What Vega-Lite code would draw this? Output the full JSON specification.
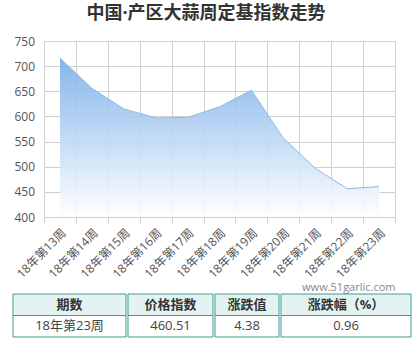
{
  "$schema": "https://vega.github.io/schema/vega-lite/v6.json",
  "padding": {"left": 12, "top": 5, "right": 0, "bottom": 0},
  "background": "white",
  "config": {"font": "Open Sans, Noto Sans CJK SC", "view": {"stroke": null}},
  "title": {"text": "中国·产区大蒜周定基指数走势", "font": "Open Sans, Noto Sans CJK SC", "fontSize": 18, "fontWeight": "bold", "color": "#333333", "anchor": "middle", "offset": 12, "dx": -6},
  "datasets": {
    "index": [
      {"周": "18年第13周", "指数": 716},
      {"周": "18年第14周", "指数": 656},
      {"周": "18年第15周", "指数": 615},
      {"周": "18年第16周", "指数": 597},
      {"周": "18年第17周", "指数": 598},
      {"周": "18年第18周", "指数": 619},
      {"周": "18年第19周", "指数": 652},
      {"周": "18年第20周", "指数": 557},
      {"周": "18年第21周", "指数": 497},
      {"周": "18年第22周", "指数": 456.13},
      {"周": "18年第23周", "指数": 460.51}
    ],
    "table": [
      {"col": "期数", "row": "header", "text": "期数"},
      {"col": "期数", "row": "data", "text": "18年第23周"},
      {"col": "价格指数", "row": "header", "text": "价格指数"},
      {"col": "价格指数", "row": "data", "text": "460.51"},
      {"col": "涨跌值", "row": "header", "text": "涨跌值"},
      {"col": "涨跌值", "row": "data", "text": "4.38"},
      {"col": "涨跌幅", "row": "header", "text": "涨跌幅（%）"},
      {"col": "涨跌幅", "row": "data", "text": "0.96"}
    ]
  },
  "spacing": 0,
  "vconcat": [
    {
      "bounds": "flush",
      "spacing": 30,
      "hconcat": [
        {
          "width": 1,
          "height": 176,
          "data": {"name": "index"},
          "mark": {"type": "point", "opacity": 0, "size": 0},
          "encoding": {
            "y": {
              "field": "指数", "type": "quantitative",
              "scale": {"domain": [400, 750], "nice": false, "zero": false},
              "axis": {
                "orient": "right", "values": [400, 450, 500, 550, 600, 650, 700, 750], "title": null,
                "grid": false, "ticks": false, "domain": false,
                "labelFontSize": 12, "labelColor": "#555555", "labelPadding": 0
              }
            }
          }
        },
        {
          "width": 351,
          "height": 176,
          "data": {"name": "index"},
          "encoding": {
            "x": {
              "field": "周", "type": "ordinal", "sort": null, "bandPosition": 0.5,
              "scale": {"type": "band", "paddingInner": 0, "paddingOuter": 0},
              "axis": {
                "title": "www.51garlic.com", "titleAnchor": "end", "titleAlign": "right",
                "titleFontSize": 11, "titleFontWeight": "normal", "titleColor": "#888888", "titlePadding": 2,
                "labelAngle": -45, "labelFontSize": 12, "labelColor": "#555555", "labelPadding": 4,
                "tickBand": "extent", "grid": true, "gridColor": "#d0d0d0", "tickColor": "#d0d0d0",
                "tickSize": 6, "domain": false
              }
            },
            "y": {
              "field": "指数", "type": "quantitative",
              "scale": {"domain": [400, 750], "nice": false, "zero": false},
              "axis": {
                "values": [400, 450, 500, 550, 600, 650, 700, 750], "title": null, "grid": true,
                "gridColor": "#d0d0d0", "ticks": false, "domain": false, "labels": false
              }
            }
          },
          "layer": [
            {
              "mark": {
                "type": "area", "opacity": 0.9,
                "color": {"gradient": "linear", "x1": 0, "y1": 0, "x2": 0, "y2": 1,
                  "stops": [{"offset": 0, "color": "#78aee9"}, {"offset": 1, "color": "#ffffff"}]}
              },
              "encoding": {"y2": {"datum": 400}}
            },
            {
              "mark": {"type": "line", "color": "#8cb9e6", "strokeWidth": 1},
              "encoding": {}
            }
          ]
        }
      ]
    },
    {
      "spacing": 0,
      "hconcat": [
        {
          "width": 113, "height": 43,
          "data": {"name": "table"},
          "transform": [{"filter": "datum.col === '期数'"}],
          "encoding": {"y": {"field": "row", "type": "nominal", "sort": ["header", "data"], "axis": null, "scale": {"paddingInner": 0, "paddingOuter": 0}}},
          "layer": [
            {"mark": {"type": "rect", "stroke": "#3b9d97", "strokeWidth": 1},
             "encoding": {"x": {"value": 0}, "x2": {"value": "width"},
               "fill": {"field": "row", "type": "nominal", "scale": {"domain": ["header", "data"], "range": ["#e4f3f1", "#ffffff"]}, "legend": null}}},
            {"transform": [{"filter": "datum.row === 'header'"}], "mark": {"type": "text", "fontSize": 13, "fontWeight": "bold", "color": "#333333"}, "encoding": {"text": {"field": "text"}}},
            {"transform": [{"filter": "datum.row === 'data'"}], "mark": {"type": "text", "fontSize": 13, "color": "#444444"}, "encoding": {"text": {"field": "text"}}}
          ]
        },
        {
          "width": 85, "height": 43,
          "data": {"name": "table"},
          "transform": [{"filter": "datum.col === '价格指数'"}],
          "encoding": {"y": {"field": "row", "type": "nominal", "sort": ["header", "data"], "axis": null, "scale": {"paddingInner": 0, "paddingOuter": 0}}},
          "layer": [
            {"mark": {"type": "rect", "stroke": "#3b9d97", "strokeWidth": 1},
             "encoding": {"x": {"value": 0}, "x2": {"value": "width"},
               "fill": {"field": "row", "type": "nominal", "scale": {"domain": ["header", "data"], "range": ["#e4f3f1", "#ffffff"]}, "legend": null}}},
            {"transform": [{"filter": "datum.row === 'header'"}], "mark": {"type": "text", "fontSize": 13, "fontWeight": "bold", "color": "#333333"}, "encoding": {"text": {"field": "text"}}},
            {"transform": [{"filter": "datum.row === 'data'"}], "mark": {"type": "text", "fontSize": 13, "color": "#444444"}, "encoding": {"text": {"field": "text"}}}
          ]
        },
        {
          "width": 64, "height": 43,
          "data": {"name": "table"},
          "transform": [{"filter": "datum.col === '涨跌值'"}],
          "encoding": {"y": {"field": "row", "type": "nominal", "sort": ["header", "data"], "axis": null, "scale": {"paddingInner": 0, "paddingOuter": 0}}},
          "layer": [
            {"mark": {"type": "rect", "stroke": "#3b9d97", "strokeWidth": 1},
             "encoding": {"x": {"value": 0}, "x2": {"value": "width"},
               "fill": {"field": "row", "type": "nominal", "scale": {"domain": ["header", "data"], "range": ["#e4f3f1", "#ffffff"]}, "legend": null}}},
            {"transform": [{"filter": "datum.row === 'header'"}], "mark": {"type": "text", "fontSize": 13, "fontWeight": "bold", "color": "#333333"}, "encoding": {"text": {"field": "text"}}},
            {"transform": [{"filter": "datum.row === 'data'"}], "mark": {"type": "text", "fontSize": 13, "color": "#444444"}, "encoding": {"text": {"field": "text"}}}
          ]
        },
        {
          "width": 130, "height": 43,
          "data": {"name": "table"},
          "transform": [{"filter": "datum.col === '涨跌幅'"}],
          "encoding": {"y": {"field": "row", "type": "nominal", "sort": ["header", "data"], "axis": null, "scale": {"paddingInner": 0, "paddingOuter": 0}}},
          "layer": [
            {"mark": {"type": "rect", "stroke": "#3b9d97", "strokeWidth": 1},
             "encoding": {"x": {"value": 0}, "x2": {"value": "width"},
               "fill": {"field": "row", "type": "nominal", "scale": {"domain": ["header", "data"], "range": ["#e4f3f1", "#ffffff"]}, "legend": null}}},
            {"transform": [{"filter": "datum.row === 'header'"}], "mark": {"type": "text", "fontSize": 13, "fontWeight": "bold", "color": "#333333"}, "encoding": {"text": {"field": "text"}}},
            {"transform": [{"filter": "datum.row === 'data'"}], "mark": {"type": "text", "fontSize": 13, "color": "#444444"}, "encoding": {"text": {"field": "text"}}}
          ]
        }
      ]
    }
  ]
}
